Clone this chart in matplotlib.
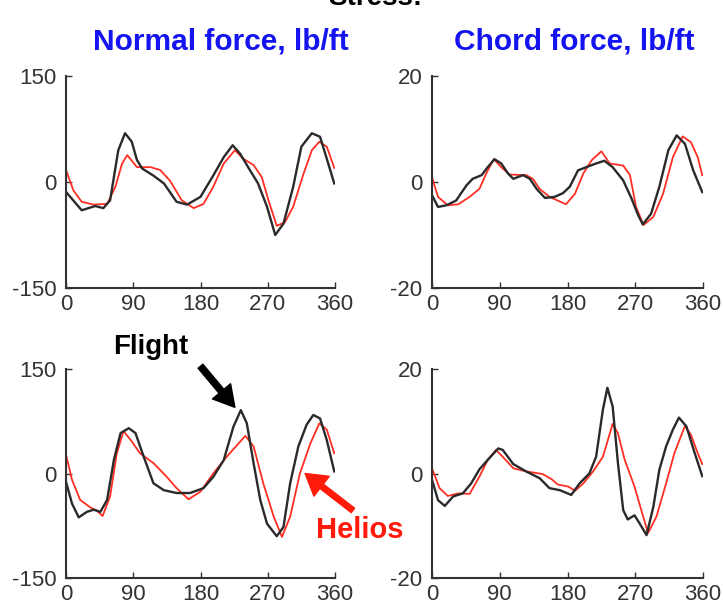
import matplotlib
matplotlib.use("Agg")
import matplotlib.pyplot as plt

plt.rcParams['font.family'] = ['Liberation Sans', 'DejaVu Sans']
plt.rcParams['axes.unicode_minus'] = False

# azimuth (deg) and loads
# top row: normal force / chord force, first case
nt_flight_x = [0, 21, 39, 50, 59, 70, 79, 88, 95, 102, 117, 131, 148, 162, 180, 197, 211, 223,
               233, 246, 257, 269, 280, 291, 304, 315, 329, 340, 351, 359]
nt_flight_y = [-14, -40, -34, -37, -26, 45, 69, 57, 31, 19, 9, -2, -28, -32, -21, 9, 35, 52,
               40, 17, -2, -35, -75, -59, -7, 50, 69, 64, 26, -2]
nt_helios_x = [0, 10, 21, 37, 55, 66, 75, 82, 95, 113, 126, 139, 155, 171, 184, 197, 211, 226,
               237, 251, 262, 271, 282, 293, 304, 318, 329, 339, 349, 359]
nt_helios_y = [17, -12, -28, -32, -31, -7, 26, 38, 21, 21, 17, 2, -26, -37, -31, -7, 26, 45,
               33, 24, 7, -26, -62, -57, -35, 12, 45, 57, 50, 20]

ct_flight_x = [0, 8, 19, 32, 46, 54, 66, 74, 83, 92, 101, 108, 121, 130, 139, 150, 163, 174,
               183, 194, 205, 218, 229, 240, 254, 265, 274, 280, 291, 302, 314, 325, 336, 347, 359]
ct_flight_y = [-2.5, -4.7, -4.4, -3.5, -0.6, 0.6, 1.3, 2.8, 4.3, 3.5, 1.6, 0.6, 1.3, 0.6, -1.3,
               -3.0, -2.8, -2.1, -0.9, 2.2, 2.8, 3.5, 4.0, 2.8, 0.3, -3.1, -6.3, -8.0, -6.0,
               -0.9, 6.0, 8.8, 7.2, 2.2, -1.9]
ct_helios_x = [0, 8, 21, 35, 50, 63, 72, 82, 92, 103, 125, 134, 143, 156, 178, 190, 201, 212,
               225, 236, 254, 263, 271, 281, 294, 307, 320, 333, 344, 353, 359]
ct_helios_y = [0.9, -2.8, -4.4, -4.2, -2.8, -1.3, 1.6, 4.3, 2.8, 1.4, 1.3, 0.6, -1.3, -2.8,
               -4.2, -2.2, 1.6, 4.1, 5.8, 3.5, 3.1, 1.3, -4.7, -8.1, -6.6, -2.2, 4.7, 8.6,
               7.5, 4.7, 1.3]

# bottom row: second case
nb_flight_x = [0, 8, 17, 28, 37, 46, 55, 64, 73, 84, 93, 104, 117, 131, 148, 166, 184, 197,
               211, 224, 234, 242, 251, 260, 269, 282, 291, 300, 311, 322, 331, 340, 349, 359]
nb_flight_y = [-12, -43, -63, -55, -52, -55, -38, 19, 58, 65, 58, 24, -14, -24, -28, -28, -21,
               -5, 19, 67, 91, 72, 15, -38, -72, -90, -77, -14, 39, 70, 84, 79, 48, 3]
nb_helios_x = [0, 8, 19, 33, 41, 49, 59, 68, 77, 88, 99, 117, 135, 148, 164, 180, 197, 215,
               240, 251, 264, 278, 289, 300, 313, 327, 339, 349, 359]
nb_helios_y = [27, -9, -38, -49, -53, -61, -33, 29, 61, 46, 29, 15, -5, -21, -37, -26, 0, 24,
               54, 39, -14, -62, -91, -62, 0, 43, 72, 63, 29]

cb_flight_x = [0, 8, 17, 28, 41, 52, 63, 74, 88, 94, 108, 125, 143, 156, 170, 185, 196, 209,
               218, 227, 233, 240, 247, 254, 260, 269, 276, 285, 294, 302, 311, 320, 328, 338,
               349, 359]
cb_flight_y = [-1.2, -5.1, -6.2, -4.4, -3.8, -1.9, 0.8, 2.6, 4.8, 4.5, 1.8, 0.4, -0.9, -2.8,
               -3.2, -4.1, -1.9, 0.0, 3.2, 12.2, 16.4, 12.8, 2.0, -7.0, -8.8, -8.0, -9.6,
               -11.8, -6.4, 0.7, 5.2, 8.4, 10.7, 9.0, 3.9, -0.5]
cb_helios_x = [0, 10, 21, 35, 50, 63, 74, 85, 94, 108, 125, 147, 159, 167, 181, 190, 201, 214,
               227, 240, 247, 256, 269, 278, 287, 298, 311, 322, 336, 344, 353, 359]
cb_helios_y = [1.0, -2.8, -4.3, -3.8, -3.9, -0.6, 2.6, 4.5, 3.2, 1.0, 0.4, -0.1, -1.1, -2.1,
               -2.5, -3.3, -1.9, 0.4, 3.2, 9.5, 7.7, 2.6, -2.5, -7.0, -11.4, -8.3, -1.9, 3.9,
               9.1, 7.4, 3.9, 1.8]

panels = [
    (nt_flight_x, nt_flight_y, nt_helios_x, nt_helios_y, 150),
    (ct_flight_x, ct_flight_y, ct_helios_x, ct_helios_y, 20),
    (nb_flight_x, nb_flight_y, nb_helios_x, nb_helios_y, 150),
    (cb_flight_x, cb_flight_y, cb_helios_x, cb_helios_y, 20),
]
x_ticks = [0, 90, 180, 270, 360]

W, H = 723, 610
fig = plt.figure(figsize=(W / 100, H / 100), dpi=100)

boxes = [(66, 76, 335, 288), (432, 76, 703, 288),
         (66, 369, 335, 578), (432, 369, 703, 578)]
axes = []
for (l, t, r, b), (fx, fy, hx, hy, lim) in zip(boxes, panels):
    ax = fig.add_axes([l / W, 1 - b / H, (r - l) / W, (b - t) / H])
    ax.plot(hx, hy, color='#ff2e22', lw=1.3)
    ax.plot(fx, fy, color='#2a2a2a', lw=1.7)
    ax.set_xlim(0, 360)
    ax.set_ylim(-lim, lim)
    ax.set_xticks(x_ticks)
    ax.set_yticks([-lim, 0, lim])
    ax.spines['top'].set_visible(False)
    ax.spines['right'].set_visible(False)
    for s in ['left', 'bottom']:
        ax.spines[s].set_linewidth(1.5)
        ax.spines[s].set_color('#333333')
    ax.tick_params(direction='in', length=4, width=1, labelsize=16,
                   labelcolor='#333333', color='#333333')
    ax.tick_params(axis='y', pad=7)
    ax.tick_params(axis='x', pad=4)
    ax.patch.set_alpha(0)
    axes.append(ax)

title_kw = dict(color='#1414f0', fontsize=21.5, fontweight='bold',
                ha='center', va='center')
fig.text(221 / W, 1 - 41 / H, "Normal force, lb/ft", **title_kw)
fig.text(574 / W, 1 - 41 / H, "Chord force, lb/ft", **title_kw)

# heading cut off at the top of the slide: only the bottoms of its letters show
fig.text(375 / W, 1 - 5 / H, "Stress:", fontsize=20, fontweight='bold',
         ha='center', va='baseline', color='black')

ax = axes[2]
ax.annotate("", xy=(226, 95), xytext=(180, 154), annotation_clip=False,
            arrowprops=dict(width=4.5, headwidth=17, headlength=15, color='black', shrink=0))
ax.annotate("", xy=(320, 0), xytext=(384, -53), annotation_clip=False,
            arrowprops=dict(width=4, headwidth=18, headlength=15, color='#ff1a0a', shrink=0))
fig.text(151 / W, 1 - 347 / H, "Flight", fontsize=20, fontweight='bold',
         color='black', ha='center', va='center')
fig.text(360 / W, 1 - 530 / H, "Helios", fontsize=21, fontweight='bold',
         color='#ff1a0a', ha='center', va='center')

fig.savefig("out.png", dpi=100)
